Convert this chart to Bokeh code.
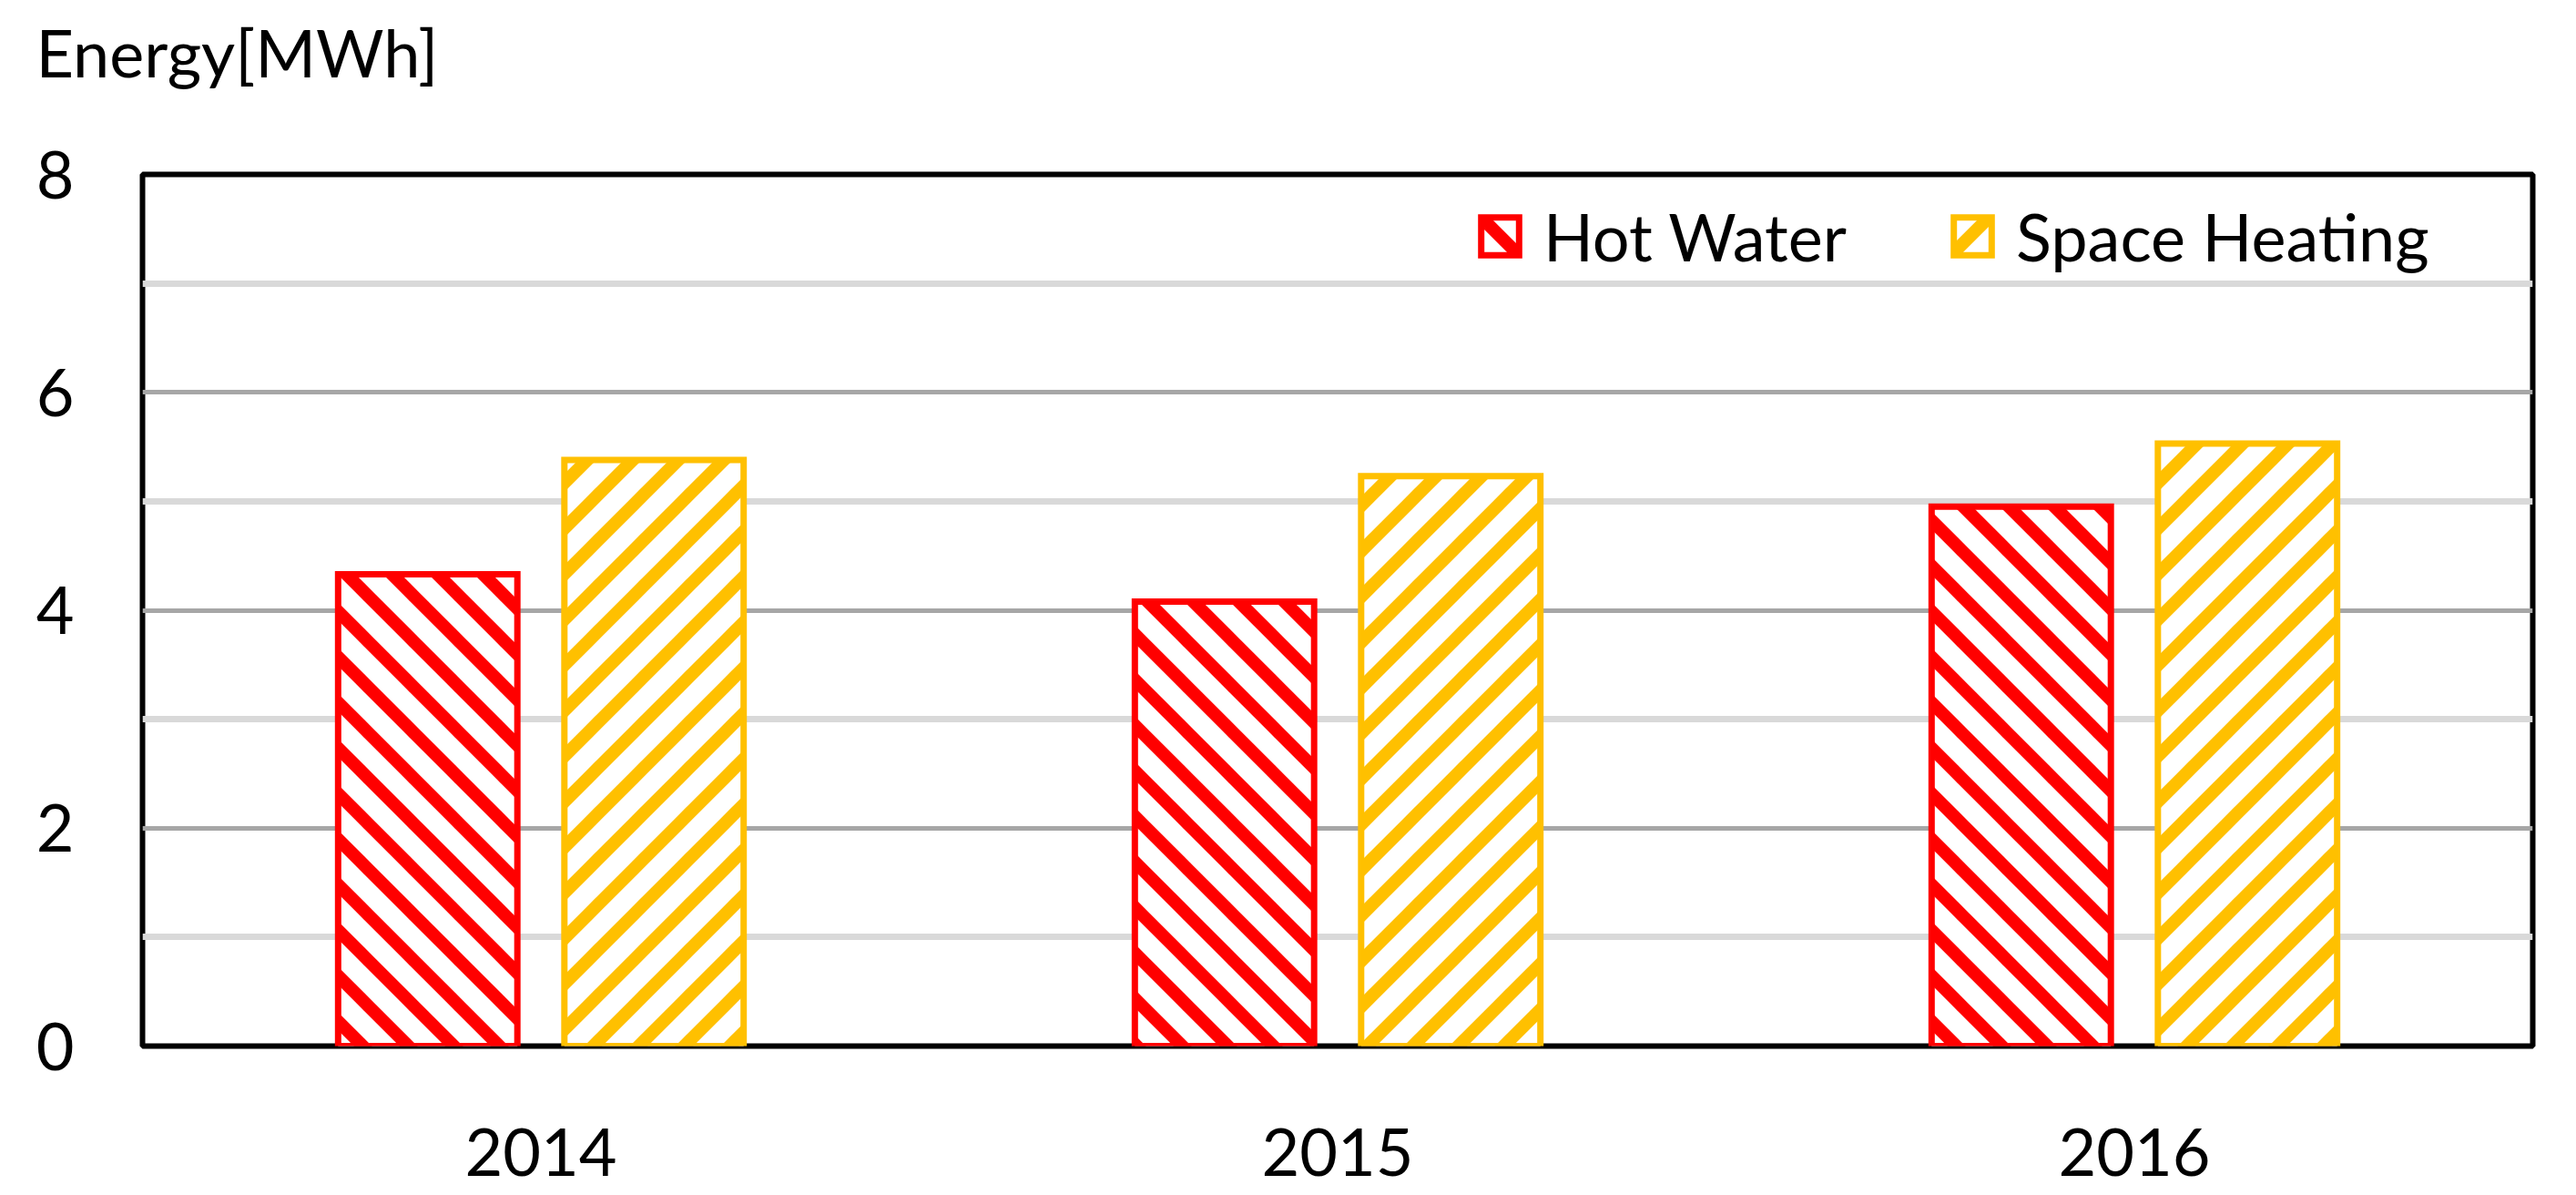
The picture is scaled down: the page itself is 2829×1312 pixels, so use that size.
import base64
from bokeh.plotting import figure
from bokeh.models import (FixedTicker, Legend, LegendItem, ColumnDataSource,
                          ImageURLTexture, Title)
from bokeh.core.properties import value
from bokeh.transform import dodge
from bokeh.embed import file_html
from bokeh.resources import INLINE

years = ["2014", "2015", "2016"]
hot_water = [4.33, 4.08, 4.95]
space_heating = [5.38, 5.23, 5.53]
y_ticks = [0, 2, 4, 6, 8]
grid_major = [2, 4, 6]
grid_minor = [1, 3, 5, 7]
series_names = ["Hot Water", "Space Heating"]
y_title = "Energy[MWh]"

FONT = "Lato"
RED = "#FF0000"
GOLD = "#FFC000"


def stripe_texture(color, forward, size=50, weight=14):
    """45-degree stripe tile as an SVG data URL."""
    s = size
    if forward:   # "/"
        d = " ".join(f"M{-s},{c + s} L{2 * s},{c - 2 * s}" for c in (-s, 0, s, 2 * s))
    else:         # "\"
        d = " ".join(f"M{-s},{c - s} L{2 * s},{c + 2 * s}" for c in (-s, 0, s))
    svg = (f"<svg xmlns='http://www.w3.org/2000/svg' width='{s}' height='{s}'>"
           f"<rect width='{s}' height='{s}' fill='white'/>"
           f"<path d='{d}' stroke='{color}' stroke-width='{weight}' fill='none'/></svg>")
    b64 = base64.b64encode(svg.encode()).decode()
    return ImageURLTexture(url="data:image/svg+xml;base64," + b64)


src = ColumnDataSource(dict(year=years, hw=hot_water, sh=space_heating))

p = figure(x_range=years, y_range=(0, 8), width=2829, height=1312,
           output_backend="svg", toolbar_location=None,
           min_border_left=156, min_border_right=48,
           min_border_top=191, min_border_bottom=164)

# title (outermost) + spacer panel between it and the frame
p.title.text = y_title
p.title.align = "left"
p.title.offset = -117
p.title.standoff = 0
p.title.text_font = FONT
p.title.text_font_size = "72px"
p.title.text_font_style = "normal"
p.title.text_color = "black"
p.add_layout(Title(text=" ", text_font_size="10px", standoff=79), "above")

r1 = p.vbar(x=dodge("year", -0.142, range=p.x_range), top="hw", width=0.225,
            source=src, fill_color="white", line_color=RED, line_width=7,
            line_join="miter", hatch_pattern=value("bs"),
            hatch_extra={"bs": stripe_texture(RED, False)},
            hatch_color=RED, hatch_scale=50, hatch_weight=14)
r2 = p.vbar(x=dodge("year", 0.142, range=p.x_range), top="sh", width=0.225,
            source=src, fill_color="white", line_color=GOLD, line_width=7,
            line_join="miter", hatch_pattern=value("fs"),
            hatch_extra={"fs": stripe_texture(GOLD, True)},
            hatch_color=GOLD, hatch_scale=50, hatch_weight=14)

legend = Legend(items=[LegendItem(label=series_names[0], renderers=[r1]),
                       LegendItem(label=series_names[1], renderers=[r2])],
                orientation="horizontal", location=(1465, 846),
                label_text_font=FONT, label_text_font_size="72px",
                label_text_color="black",
                glyph_width=52, glyph_height=52, label_standoff=22,
                spacing=112, padding=0, margin=0, border_line_color=None,
                background_fill_alpha=0)
p.add_layout(legend)

p.yaxis.ticker = FixedTicker(ticks=y_ticks, minor_ticks=[])
p.ygrid.ticker = FixedTicker(ticks=grid_major, minor_ticks=grid_minor)
p.ygrid.grid_line_color = "#A6A6A6"
p.ygrid.grid_line_width = 5
p.ygrid.minor_grid_line_color = "#D9D9D9"
p.ygrid.minor_grid_line_width = 7
p.xgrid.grid_line_color = None

for ax in (p.xaxis, p.yaxis):
    ax.axis_line_color = None
    ax.major_tick_out = 0
    ax.major_tick_in = 0
    ax.minor_tick_out = 0
    ax.minor_tick_in = 0
    ax.major_label_text_font = FONT
    ax.major_label_text_font_size = "72px"
    ax.major_label_text_color = "black"
p.yaxis.major_label_standoff = 75
p.xaxis.major_label_standoff = 90

p.outline_line_color = "black"
p.outline_line_width = 6
p.outline_line_alpha = 1
p.background_fill_color = "white"
p.border_fill_color = "white"

open("out.html", "w").write(file_html(p, INLINE))
